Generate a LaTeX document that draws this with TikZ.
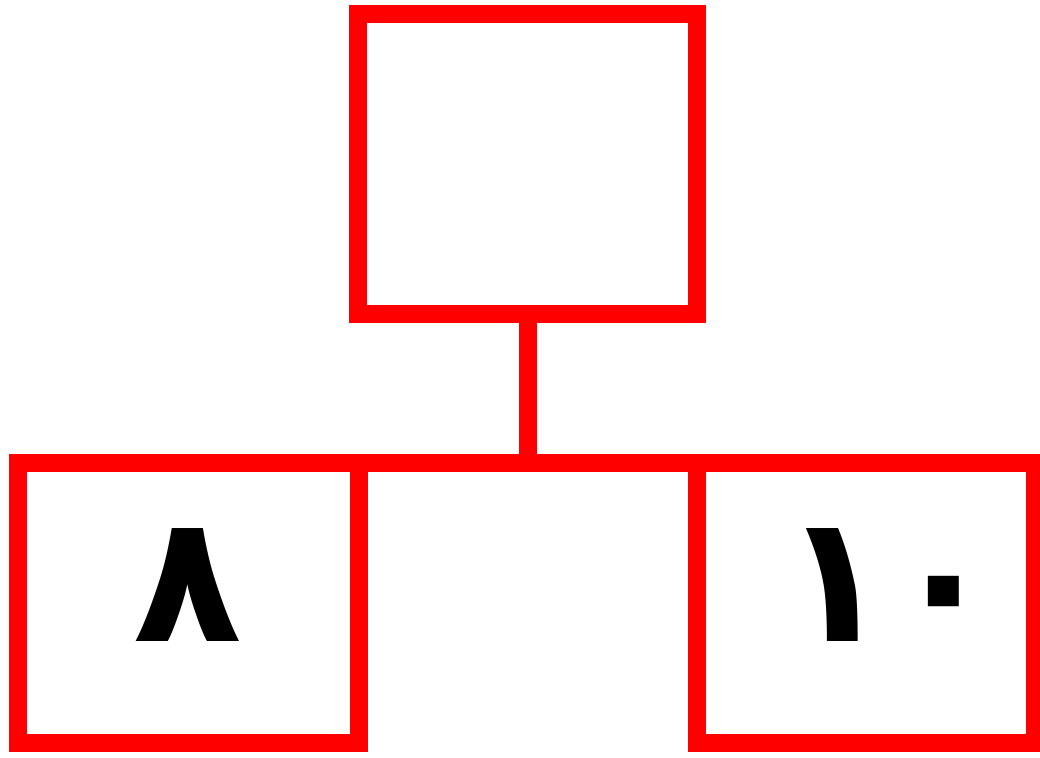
\documentclass[tikz,border=0pt]{standalone}
\usepackage{fontspec}
\newfontfamily\arabicfont[Script=Arabic]{DejaVu Sans}
\definecolor{boxred}{RGB}{255,0,0}
\begin{document}
\begin{tikzpicture}[x=1pt,y=-1pt,
  box/.style={draw=boxred,line width=18pt,rectangle,inner sep=0pt,outer sep=0pt},
  conn/.style={draw=boxred,line width=18pt,line cap=butt},
  num/.style={inner sep=0pt,font=\arabicfont\bfseries\fontsize{178}{178}\selectfont}]
\useasboundingbox (0,0) rectangle (1040,757);
\node[box,minimum width=338.4pt,minimum height=300.3pt] (top) at (527.5,163.9) {};
\node[box,minimum width=341pt,minimum height=279.5pt] (left) at (188,602.75) {};
\node[box,minimum width=338pt,minimum height=279.5pt] (right) at (866,602.75) {};
\draw[conn] (left.north east) -- (right.north west);
\draw[conn] (top.south) -- (top.south |- left.north);
\node[num] (eight) at (187.5,585) {٨};
\node[num] (ten) at (890,585) {١٠};
\end{tikzpicture}
\end{document}
